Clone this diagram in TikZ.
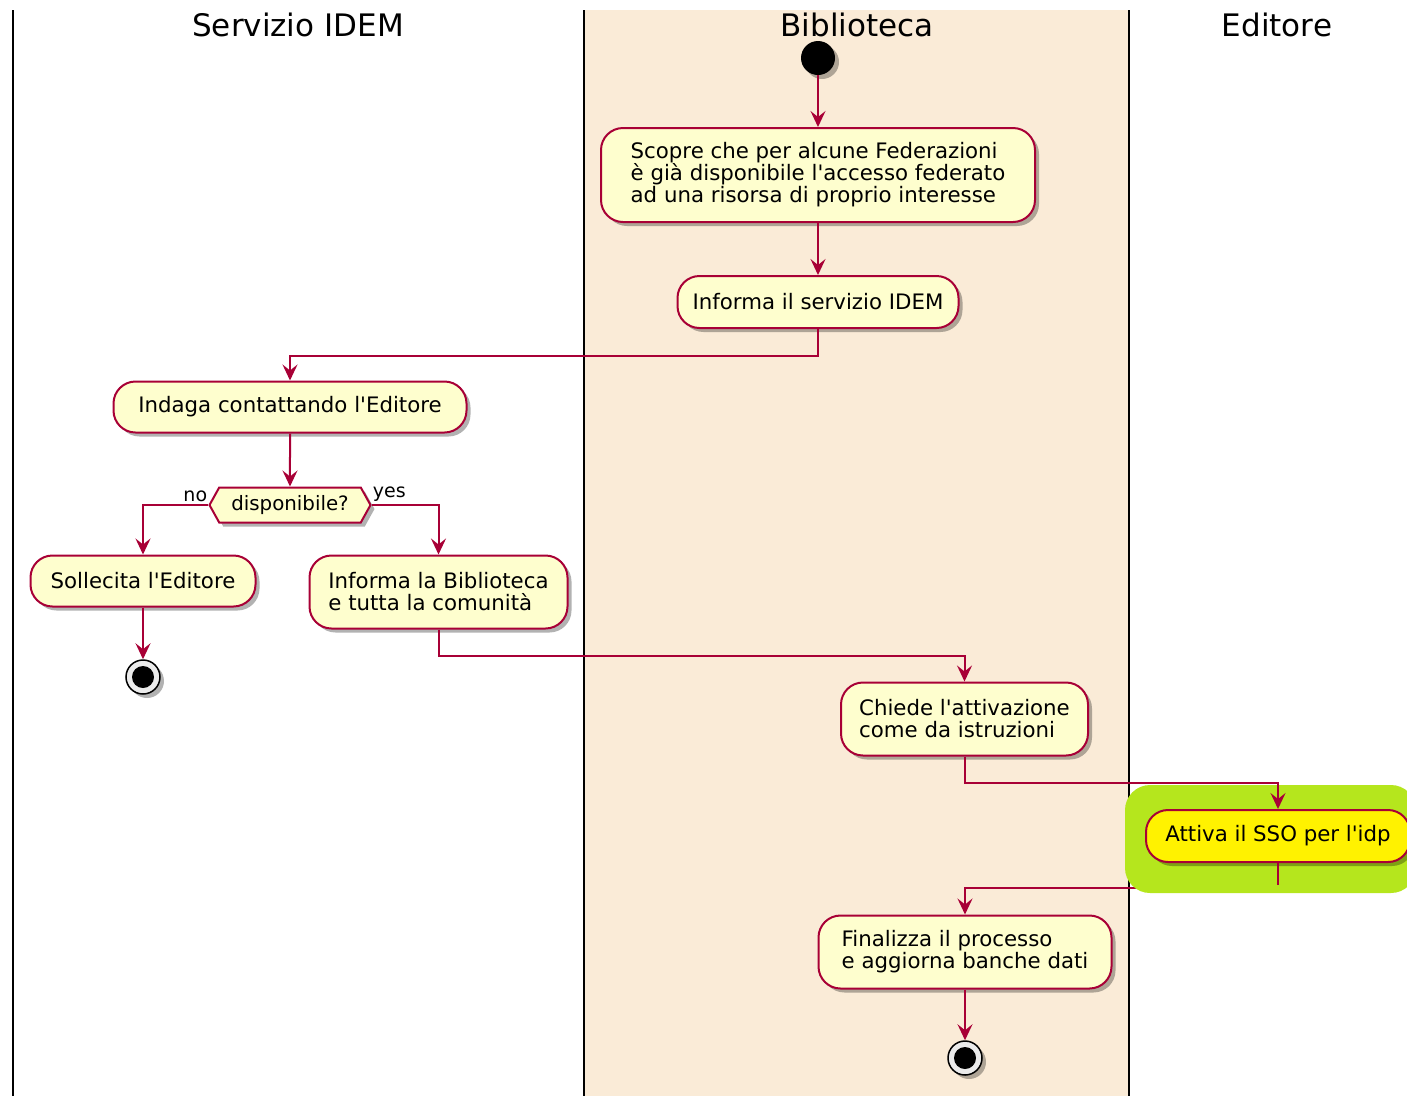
\documentclass[tikz,border=0pt]{standalone}
\usepackage{fontspec}
\setmainfont{DejaVu Sans}[Ligatures=TeXOff]
\usetikzlibrary{arrows.meta,shapes.symbols,shadows}

\definecolor{umlred}{HTML}{A80036}
\definecolor{umlfill}{HTML}{FEFECE}
\definecolor{lanebg}{HTML}{FAEBD7}
\definecolor{hlgreen}{HTML}{B5E61D}
\definecolor{hlyellow}{HTML}{FFF200}

\pgfdeclarelayer{back}
\pgfdeclarelayer{hilite}
\pgfdeclarelayer{front}
\pgfsetlayers{back,main,hilite,front}

\tikzset{
  umlshadow/.style={drop shadow={shadow xshift=4pt,shadow yshift=-4pt,fill=black,opacity=0.3}},
  act/.style={draw=umlred,line width=2pt,fill=umlfill,rounded corners=22pt,align=left,
    inner xsep=14pt,inner ysep=14pt,font=\fontsize{21.3}{22}\selectfont,umlshadow},
  flow/.style={draw=umlred,line width=2pt,-{Stealth[length=16pt,width=15pt,inset=6pt]}},
  lane/.style={draw=black,line width=2.5pt},
  lanetitle/.style={font=\fontsize{31}{36}\selectfont},
  branchlbl/.style={font=\fontsize{19}{20}\selectfont,inner sep=1pt},
  startdot/.style={circle,fill=black,minimum size=34pt,inner sep=0pt,umlshadow},
  stopdot/.style={circle,draw=black,fill=white!92!black,line width=1.5pt,minimum size=34pt,inner sep=0pt,umlshadow,
    path picture={\fill[black] (path picture bounding box.center) circle (11pt);}}
}

\begin{document}
\begin{tikzpicture}[x=1pt,y=1pt,yscale=-1,xscale=1]
\useasboundingbox (0,0) rectangle (1407,1096);

%Swimlanes
\begin{pgfonlayer}{back}
\fill[lanebg] (584,10) rectangle (1129,1096);
\draw[lane] (13,10) -- (13,1096);
\draw[lane] (584,10) -- (584,1096);
\draw[lane] (1129,10) -- (1129,1096);
\end{pgfonlayer}

%Lane titles
\node[lanetitle] (tidem) at (298,25) {Servizio IDEM};
\node[lanetitle] (tbib) at (857,25) {Biblioteca};
\node[lanetitle] (tedit) at (1277,25) {Editore};

%Start
\node[startdot] (start) at (818,58) {};

%Activities
\node[act,minimum width=434pt,minimum height=94pt] (scopre) at (818,175) {Scopre che per alcune Federazioni\\è già disponibile l'accesso federato\\ad una risorsa di proprio interesse};
\node[act,minimum width=281pt,minimum height=52pt] (informaidem) at (818,302) {Informa il servizio IDEM};
\node[act,minimum width=353pt,minimum height=51pt] (indaga) at (290,407) {Indaga contattando l'Editore};

%Decision
\node[signal,signal to=east and west,signal pointer angle=122,draw=umlred,line width=2pt,fill=umlfill,
  minimum width=161pt,minimum height=35pt,inner xsep=4pt,inner ysep=2pt,font=\fontsize{19.8}{20}\selectfont,umlshadow] (disp) at (290,505) {disponibile?};
\node[branchlbl,anchor=south east] (lno) at ([yshift=-2pt]disp.west) {no};
\node[branchlbl,anchor=south west] (lyes) at ([yshift=-2pt]disp.east) {yes};

\node[act,minimum width=225pt,minimum height=51pt] (sollecita) at (143,581) {Sollecita l'Editore};
\node[act,minimum width=258pt,minimum height=73pt] (informabib) at (438.5,592) {Informa la Biblioteca\\e tutta la comunità};
\node[stopdot] (stopa) at (143,677) {};

\node[act,minimum width=247pt,minimum height=73pt] (chiede) at (964.5,719) {Chiede l'attivazione\\come da istruzioni};
\node[act,minimum width=293pt,minimum height=73pt] (finalizza) at (965,952) {Finalizza il processo\\e aggiorna banche dati};
\node[stopdot] (stopb) at (965,1058) {};

%Highlighted activity
\begin{pgfonlayer}{hilite}
\fill[hlgreen,rounded corners=25pt] (1125,785) rectangle (1416,893);
\end{pgfonlayer}
\begin{pgfonlayer}{front}
\node[act,fill=hlyellow,minimum width=264pt,minimum height=52pt] (attiva) at (1278,836) {Attiva il SSO per l'idp};
\coordinate (attivaend) at (1278,885);
\draw[draw=umlred,line width=2pt] (attiva.south) -- (attivaend);
\draw[flow] (chiede.south) -- ++(0,26) -| (attiva.north);
\end{pgfonlayer}

%Connectors
\draw[flow] (start) -- (scopre);
\draw[flow] (scopre) -- (informaidem);
\draw[flow] (informaidem.south) -- ++(0,27) -| (indaga.north);
\draw[flow] (indaga) -- (disp);
\draw[flow] (disp.west) -| (sollecita.north);
\draw[flow] (disp.east) -| (informabib.north);
\draw[flow] (sollecita) -- (stopa);
\draw[flow] (informabib.south) -- ++(0,26) -| (chiede.north);
\draw[flow] (attiva.south) -- ++(0,25) -| (finalizza.north);
\draw[flow] (finalizza) -- (stopb);
\end{tikzpicture}
\end{document}
